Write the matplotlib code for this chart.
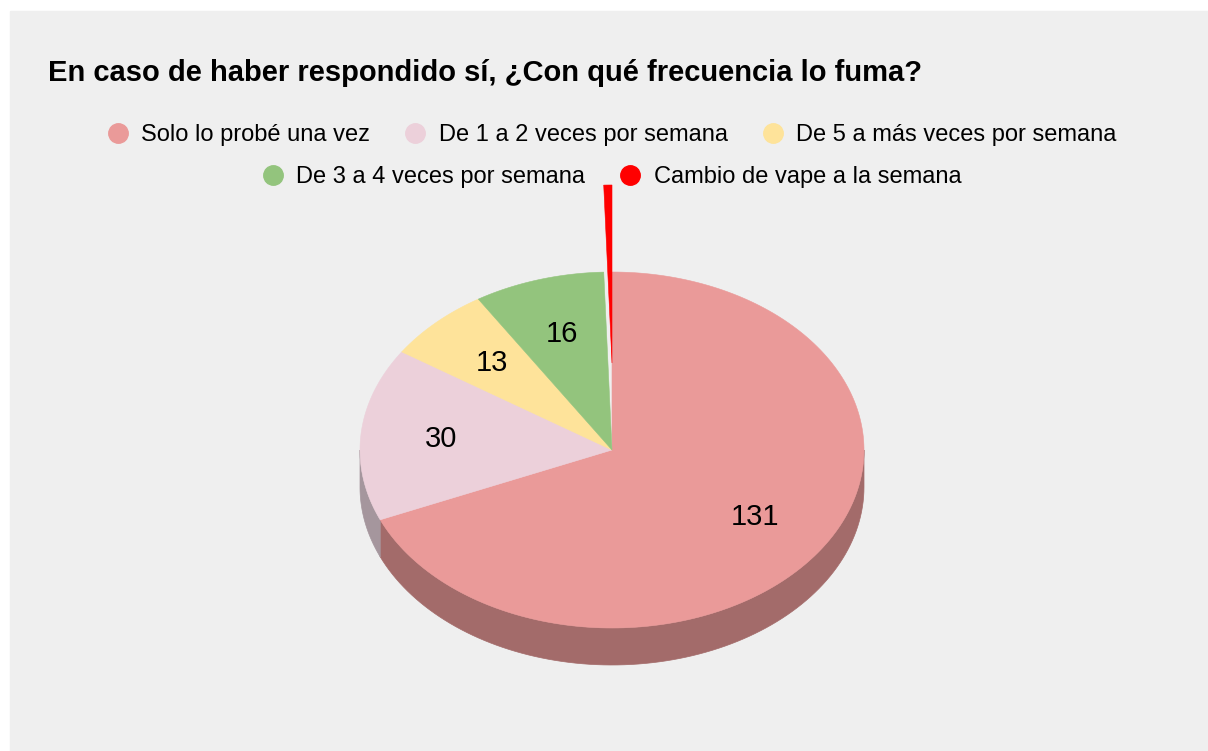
import numpy as np
import matplotlib.pyplot as plt
from matplotlib.patches import Polygon, Rectangle
from matplotlib.lines import Line2D

categorias = ["Solo lo probé una vez", "De 1 a 2 veces por semana",
              "De 5 a más veces por semana", "De 3 a 4 veces por semana",
              "Cambio de vape a la semana"]
valores = [131, 30, 13, 16, 1]
colores = ["#ea9a99", "#ecd0da", "#fee39a", "#93c47d", "#ff0000"]
colores_lado = ["#a36b6a", "#a5969d", "#b29f6b", "#678957", "#b20000"]
titulo = "En caso de haber respondido sí, ¿Con qué frecuencia lo fuma?"

plt.rcParams['font.family'] = ["Liberation Sans", "DejaVu Sans"]

fig = plt.figure(figsize=(12.08, 7.51), dpi=100)
ax = fig.add_axes([0, 0, 1, 1])
ax.set_xlim(0, 1208)
ax.set_ylim(751, 0)
ax.axis('off')
ax.add_patch(Rectangle((10, 11), 1198, 740, color="#efefef", zorder=0))

# geometria del pastel inclinado
cx, cy, rx, ry, prof = 612, 450, 252, 178, 37
explota = [0, 0, 0, 0, 87]

total = sum(valores)
angulos = 90 - np.cumsum([0] + valores) / total * 360


def borde(t):
    return cx + rx * np.cos(np.radians(t)), cy - ry * np.sin(np.radians(t))


# lados visibles (frente)
for i in range(len(valores)):
    a0, a1 = angulos[i + 1], angulos[i]
    lo, hi = sorted((a0, a1))
    for base in (-360, 0):
        s0, s1 = max(lo, base + 180), min(hi, base + 360)
        if s1 > s0:
            t = np.linspace(s0, s1, 100)
            x, y = borde(t)
            pts = np.column_stack([np.r_[x, x[::-1]], np.r_[y, y[::-1] + prof]])
            ax.add_patch(Polygon(pts, closed=True, fc=colores_lado[i],
                                 ec=colores_lado[i], lw=0.5, zorder=2))

# caras superiores
for i in range(len(valores)):
    a0, a1 = angulos[i + 1], angulos[i]
    t = np.linspace(a0, a1, 200)
    x, y = borde(t)
    dy = -explota[i]
    pts = np.column_stack([np.r_[cx, x], np.r_[cy, y] + dy])
    ax.add_patch(Polygon(pts, closed=True, fc=colores[i], ec=colores[i],
                         lw=0.4, zorder=3 + (i == 4)))
    if i < 4:
        am = np.radians((a0 + a1) / 2)
        ax.text(cx + 0.68 * rx * np.cos(am), cy - 0.68 * ry * np.sin(am),
                str(valores[i]), fontsize=21, ha="center", va="center", zorder=5)

ax.text(48, 73, titulo, fontsize=21, fontweight="bold", va="center", ha="left")


def manejador(c):
    return Line2D([], [], marker="o", ls="", markersize=14,
                  markerfacecolor=c, markeredgecolor=c)


filas = [(0, 3, 0.820), (3, 5, 0.764)]
for a, b, yy in filas:
    fig.legend([manejador(colores[k]) for k in range(a, b)], categorias[a:b],
               loc="center", bbox_to_anchor=(0.506, yy), ncol=b - a,
               frameon=False, fontsize=17, handletextpad=0.5,
               columnspacing=1.4, handlelength=1.0)

fig.savefig("out.png", dpi=100)
